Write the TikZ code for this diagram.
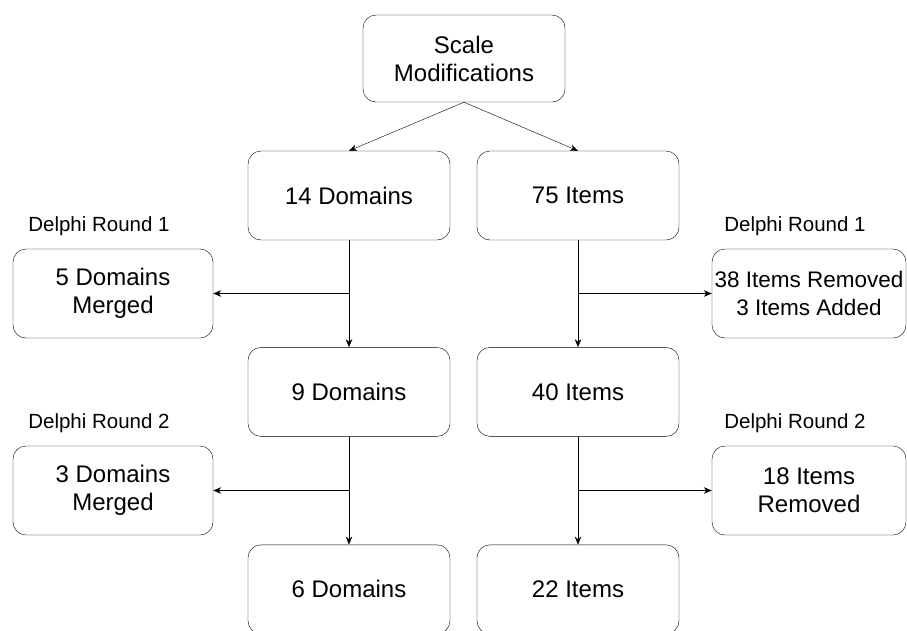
\documentclass[tikz,border=0pt]{standalone}
\usepackage{fontspec}
\setmainfont{Liberation Sans}
\usetikzlibrary{positioning}
\usetikzlibrary{arrows.meta}
\tikzset{
	-{Stealth[length=8pt,width=6.5pt]},
	line width=1.3pt,
	box/.style ={rectangle, rounded corners=13pt, draw, minimum width=202pt,
	 minimum height=89pt, align=center, font=\fontsize{24}{28}\selectfont},
	side/.style = {box, minimum width=200pt},
	roundlabel/.style = {inner sep=0pt, font=\fontsize{20.5}{22}\selectfont},
}
\begin{document}
\begin{tikzpicture}[x=1pt,y=-1pt]
	\useasboundingbox (0,0) rectangle (907,630);
               \node (Scale) [box, minimum height=87pt] at (464,58.5) {Scale\\Modifications};
                \node (Dom14) [box] at (349,195.5) {14 Domains};
                \node (Item75) [box] at (578,195.5) {75 Items};
                \node (Dom9) [box, below=107pt of Dom14] {9 Domains};
                \node (Item40) [box, below=107pt of Item75] {40 Items};
                \node (Dom6) [box, below=108pt of Dom9] {6 Domains};
                \node (Item22) [box, below=108pt of Item40] {22 Items};
                % delphi rounds
                \node (MergeA) [side] at (113,293.5) {5 Domains\\Merged};
                \node (ChangeA) [side, minimum width=194pt, inner sep=1pt,
                 font=\fontsize{22.5}{28}\selectfont] at (809,293.5) {38 Items Removed\\3 Items Added};
                \node (MergeB) [side] at (113,490.5) {3 Domains\\Merged};
                \node (ChangeB) [side, minimum width=194pt] at (809,490.5) {18 Items\\Removed};
                \node (RoundL1) [roundlabel] at (99,226) {Delphi Round 1};
                \node (RoundR1) [roundlabel] at (795,226) {Delphi Round 1};
                \node (RoundL2) [roundlabel] at (99,423) {Delphi Round 2};
                \node (RoundR2) [roundlabel] at (795,423) {Delphi Round 2};
                \coordinate (forkA) at (Dom14.south |- MergeA.east);
                \coordinate (forkB) at (Item75.south |- ChangeA.east);
                \coordinate (forkC) at (Dom9.south |- MergeB.east);
                \coordinate (forkD) at (Item40.south |- ChangeB.east);
                \draw (Scale.south) -- (Dom14.north);
                \draw (Scale.south) -- (Item75.north);
                \draw (Dom14) -- (Dom9);
                \draw (Item75) -- (Item40);
                \draw (Dom9) -- (Dom6);
                \draw (Item40) -- (Item22);
                \draw (forkA) -- (MergeA.east);
                \draw (forkB) -- (ChangeA.west);
                \draw (forkC) -- (MergeB.east);
                \draw (forkD) -- (ChangeB.west);
\end{tikzpicture}
\end{document}
